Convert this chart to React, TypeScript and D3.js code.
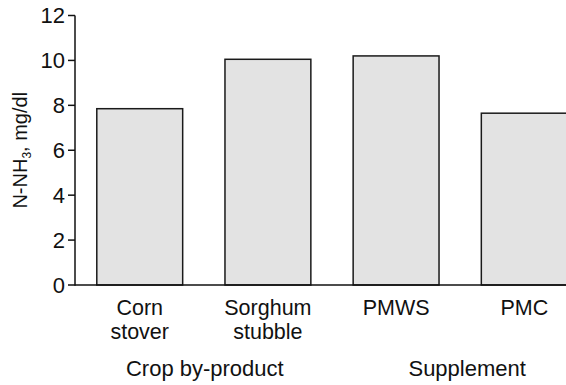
import React from 'react';
import * as d3 from 'd3';

const categories = ['Corn stover', 'Sorghum stubble', 'PMWS', 'PMC'];
const categoryLines = [['Corn', 'stover'], ['Sorghum', 'stubble'], ['PMWS'], ['PMC']];
const values = [7.85, 10.05, 10.2, 7.65];
const yTicks = [0, 2, 4, 6, 8, 10, 12];
const groupLabels = ['Crop by-product', 'Supplement'];
const groupMembers = [['Corn stover', 'Sorghum stubble'], ['PMWS', 'PMC']];

const width = 566;
const height = 385;
const font = '"Liberation Sans", Arial, sans-serif';

export default function App() {
  const x = d3
    .scaleBand()
    .domain(categories)
    .range([75, 589])
    .paddingInner(0.33)
    .paddingOuter(0.17);
  const y = d3.scaleLinear().domain([0, 12]).range([285, 15.5]);

  // group label sits under the middle of its bars (Supplement a bit to the right)
  const groupX = groupMembers.map((m) => d3.mean(m, (c) => x(c)! + x.bandwidth() / 2)!);
  const nudge = [1, 7];

  return (
    <svg
      width={width}
      height={height}
      style={{ position: 'absolute', left: 0, top: 0, background: '#fff' }}
      fontFamily={font}
    >
      {categories.map((c, i) => (
        <rect
          key={c}
          x={x(c)}
          y={y(values[i])}
          width={x.bandwidth()}
          height={y(0) - y(values[i])}
          fill="#e3e3e3"
          stroke="#1a1a1a"
          strokeWidth={1.5}
        />
      ))}

      {/* axes */}
      <line x1={75} x2={width} y1={y(0)} y2={y(0)} stroke="#111" strokeWidth={1.5} />
      <line x1={75} x2={75} y1={y(0) + 0.75} y2={y(12)} stroke="#111" strokeWidth={1.5} />
      {yTicks.map((t) => (
        <g key={t}>
          <line x1={68} x2={75} y1={y(t)} y2={y(t)} stroke="#111" strokeWidth={1.5} />
          <text x={65} y={y(t)} dy="0.36em" textAnchor="end" fontSize={22} fill="#111">
            {t}
          </text>
        </g>
      ))}

      {/* y title */}
      <text
        transform={`translate(27,${(y(0) + y(12)) / 2}) rotate(-90)`}
        textAnchor="middle"
        fontSize={20}
        fill="#111"
      >
        N-NH<tspan fontSize={12} dy={4}>3</tspan>
        <tspan dy={-4}>, mg/dl</tspan>
      </text>

      {categoryLines.map((lines, i) =>
        lines.map((l, j) => (
          <text
            key={`${i}-${j}`}
            x={x(categories[i])! + x.bandwidth() / 2}
            y={315 + j * 23.5}
            textAnchor="middle"
            fontSize={21.5}
            fill="#111"
          >
            {l}
          </text>
        ))
      )}

      {groupLabels.map((g, i) => (
        <text key={g} x={groupX[i] + nudge[i]} y={376} textAnchor="middle" fontSize={22} fill="#111">
          {g}
        </text>
      ))}
    </svg>
  );
}
